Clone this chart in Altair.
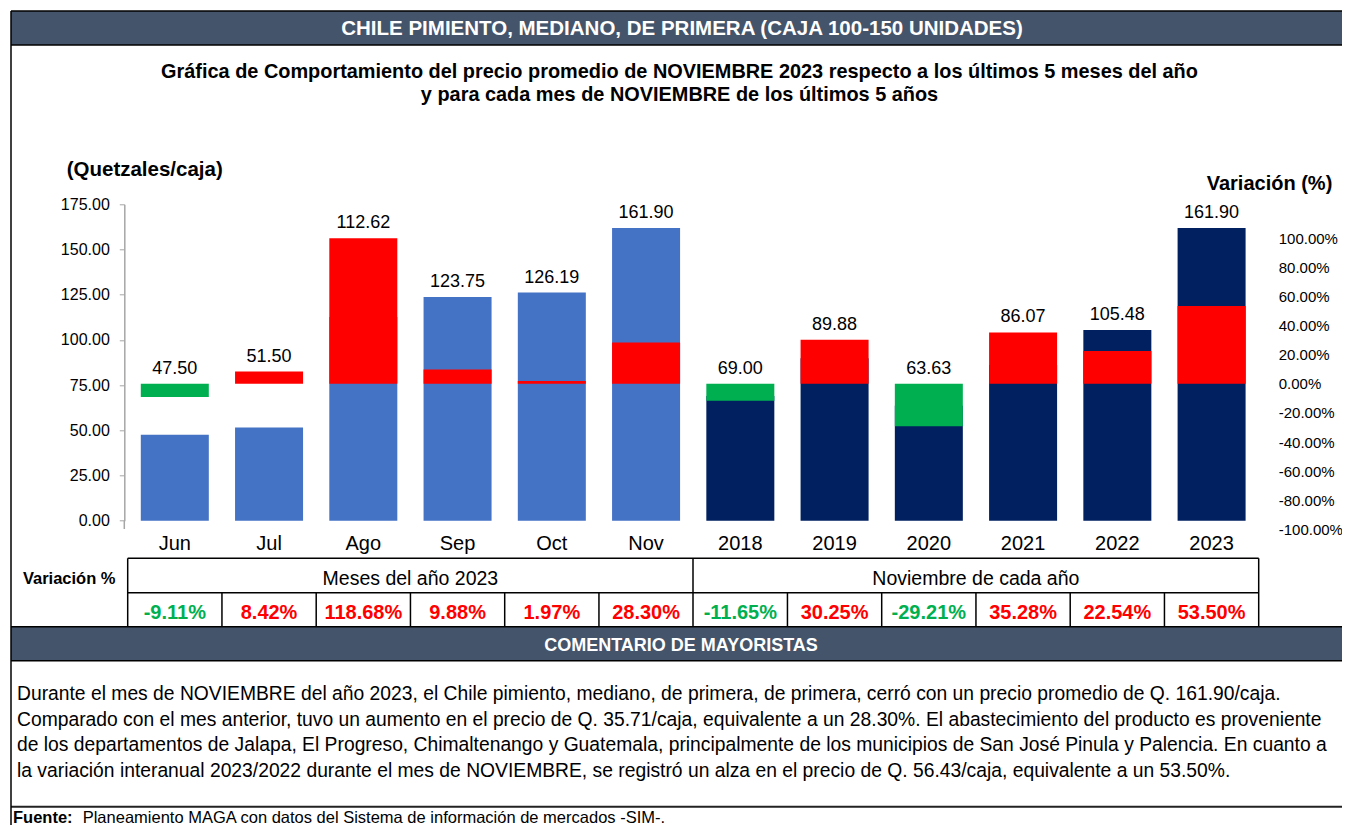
import altair as alt
import pandas as pd

# ---------------- datos ----------------
categorias = ["Jun", "Jul", "Ago", "Sep", "Oct", "Nov", "2018", "2019", "2020", "2021", "2022", "2023"]
grupos = ["mes"] * 6 + ["anio"] * 6
precios = [47.50, 51.50, 112.62, 123.75, 126.19, 161.90, 69.00, 89.88, 63.63, 86.07, 105.48, 161.90]
variaciones = [-9.11, 8.42, 118.68, 9.88, 1.97, 28.30, -11.65, 30.25, -29.21, 35.28, 22.54, 53.50]
ticks_izq = [0, 25, 50, 75, 100, 125, 150, 175]
ticks_der = [-100, -80, -60, -40, -20, 0, 20, 40, 60, 80, 100]

titulo = "CHILE PIMIENTO, MEDIANO, DE PRIMERA (CAJA 100-150 UNIDADES)"
subtitulo = [
    "Gráfica de Comportamiento del precio promedio de NOVIEMBRE 2023 respecto a los últimos 5 meses del año",
    "y para cada mes de NOVIEMBRE de los últimos 5 años",
]
eje_izq_titulo = "(Quetzales/caja)"
eje_der_titulo = "Variación (%)"
tabla_rotulo = "Variación %"
tabla_grupos = ["Meses del año 2023", "Noviembre de cada año"]
comentario_titulo = "COMENTARIO DE MAYORISTAS"
parrafo = [
    "Durante el mes de NOVIEMBRE del año 2023, el Chile pimiento, mediano, de primera, de primera, cerró con un precio promedio de Q. 161.90/caja.",
    "Comparado con el mes anterior, tuvo un aumento en el precio de Q. 35.71/caja, equivalente a un 28.30%. El abastecimiento del producto es proveniente",
    "de los departamentos de Jalapa, El Progreso, Chimaltenango y Guatemala, principalmente de los municipios de San José Pinula y Palencia. En cuanto a",
    "la variación interanual 2023/2022 durante el mes de NOVIEMBRE, se registró un alza en el precio de Q. 56.43/caja, equivalente a un 53.50%.",
]
fuente_bold = "Fuente:"
fuente_txt = "Planeamiento MAGA con datos del Sistema de información de mercados -SIM-."

# ---------------- layout ----------------
OX, OY = 127.7, 204.3          # plot origin on the page
W, H = 1131.0, 316.4
PAD_L, PAD_T = OX - 8, OY - 8
TOT_W, TOT_H = 1334, 817       # keeps the page inside the 1350x833 window
PAD_R = TOT_W - PAD_L - W
PAD_B = TOT_H - PAD_T - H
YMAX = 175
R_RANGE = [325.0, 34.0]        # pixel range of the right axis (-100% .. 100%)

FONT = "Liberation Sans"
SLATE = "#44546A"
BLUE = "#4472C4"
NAVY = "#002060"
RED = "#FF0000"
GREEN = "#00B050"
GRAY = "#A6A6A6"


def px(x):
    return x - OX


def py(y):
    return y - OY


uno = pd.DataFrame({"k": [0]})


def rect(x1, y1, x2, y2, fill):
    return alt.Chart(uno).mark_rect(fill=fill).encode(
        x=alt.value(px(x1)), x2=alt.value(px(x2)), y=alt.value(py(y1)), y2=alt.value(py(y2)))


def linea(x1, y1, x2, y2, color="#000000", w=1.5):
    return alt.Chart(uno).mark_rule(color=color, strokeWidth=w).encode(
        x=alt.value(px(x1)), x2=alt.value(px(x2)), y=alt.value(py(y1)), y2=alt.value(py(y2)))


def texto(t, x, y, size, bold=False, color="#000000", align="left"):
    return alt.Chart(uno).mark_text(
        text=t, font=FONT, fontSize=size, fontWeight="bold" if bold else "normal",
        color=color, align=align, baseline="alphabetic").encode(x=alt.value(px(x)), y=alt.value(py(y)))


# ---------------- data frame ----------------
df = pd.DataFrame({"cat": categorias, "grupo": grupos, "precio": precios, "var": variaciones})
df["var_txt"] = [f"{v:.2f}%" for v in variaciones]


# label anchor: top of whichever bar is higher (converted between the two scales)
def left_px(v):
    return H * (1 - v / YMAX)


def right_px(p):
    p = max(-100, min(100, p))
    return R_RANGE[0] + (p + 100) / 200 * (R_RANGE[1] - R_RANGE[0])


df["ancla"] = [YMAX * (1 - min(left_px(v), right_px(max(p, 0))) / H) for v, p in zip(precios, variaciones)]

# ---------------- encodings ----------------
x_axis = alt.Axis(title=None, labelFont=FONT, labelFontSize=20, labelColor="#000000", labelAngle=0,
                  ticks=False, tickSize=0, domain=False, labelPadding=13)
xenc = alt.X("cat:N", scale=alt.Scale(domain=categorias, paddingInner=0.2785, paddingOuter=0.139), axis=x_axis)

y_left_scale = alt.Scale(domain=[0, YMAX], nice=False, zero=True)
y_left_axis = alt.Axis(title=None, values=ticks_izq, format=".2f", offset=3.4, tickSize=5, tickColor=GRAY,
                       domainColor=GRAY, domainWidth=1.5, labelFont=FONT, labelFontSize=16, labelColor="#000000",
                       labelPadding=10, grid=False)

barras = alt.Chart(df).mark_bar().encode(
    x=xenc,
    y=alt.Y("precio:Q", scale=y_left_scale, axis=y_left_axis),
    color=alt.condition("datum.grupo == 'mes'", alt.value(BLUE), alt.value(NAVY)),
)
etiquetas = alt.Chart(df).mark_text(font=FONT, fontSize=18, baseline="alphabetic", dy=-10, color="#000000").encode(
    x=xenc,
    y=alt.Y("ancla:Q", scale=y_left_scale, axis=y_left_axis),
    text=alt.Text("precio:Q", format=".2f"),
)
izq = alt.layer(barras, etiquetas)

var_bars = alt.Chart(df).mark_bar().encode(
    x=xenc,
    y=alt.Y("var:Q", scale=alt.Scale(domain=[-100, 100], range=R_RANGE, clamp=True, nice=False, zero=False),
            axis=alt.Axis(title=None, orient="right", values=ticks_der,
                          labelExpr="(datum.value < 0 ? '-' : '') + format(abs(datum.value), '.2f') + '%'",
                          ticks=False, domain=False, grid=False,
                          labelFont=FONT, labelFontSize=15, labelColor="#000000", labelPadding=19.5,
                          labelAlign="left")),
    y2=alt.datum(0),
    color=alt.condition("datum.var < 0", alt.value(GREEN), alt.value(RED)),
)

tabla_vals = alt.Chart(df).mark_text(font=FONT, fontSize=20, fontWeight="bold", baseline="alphabetic").encode(
    x=xenc,
    y=alt.value(py(619)),
    text="var_txt:N",
    color=alt.condition("datum.var < 0", alt.value(GREEN), alt.value(RED)),
)

# ---------------- decoration ----------------
RIGHT = 1350
T_L, T_M, T_R = OX, 693.0, OX + W
T_Y0, T_Y1, T_Y2 = 558.3, 592.7, 626.7
step = W / len(categorias)

fondo = [
    rect(11, 11, RIGHT, 45, SLATE),
    linea(11, 11, RIGHT, 11),
    linea(11, 45, RIGHT, 45),
    rect(11, T_Y2, RIGHT, 660.7, SLATE),
    linea(11, T_Y2, RIGHT, T_Y2),
    linea(11, 660.7, RIGHT, 660.7),
    linea(11, 806.7, RIGHT, 806.7, color="#222222", w=2),
    linea(11, 11, 11, 833),
    linea(T_L, T_Y0, T_R, T_Y0),
    linea(T_L, T_Y1, T_R, T_Y1),
    linea(T_L, T_Y0, T_L, T_Y2),
    linea(T_M, T_Y0, T_M, T_Y2),
    linea(T_R, T_Y0, T_R, T_Y2),
    linea(124.3, OY + H, 124.3, 529, color=GRAY, w=1.5),
]
for k in range(1, len(categorias)):
    if k == 6:
        continue
    xk = OX + k * step
    fondo.append(linea(xk, T_Y1, xk, T_Y2))

textos = [
    texto(titulo, 682, 35.2, 20.5, bold=True, color="white", align="center"),
    texto(subtitulo[0], 679.5, 78, 19.9, bold=True, align="center"),
    texto(subtitulo[1], 679.5, 101, 19.9, bold=True, align="center"),
    texto(eje_izq_titulo, 66.7, 175.5, 20.5, bold=True),
    texto(eje_der_titulo, 1206.7, 190, 20, bold=True),
    texto(tabla_rotulo, 69.2, 584.2, 16.5, bold=True, align="center"),
    texto(tabla_grupos[0], (T_L + T_M) / 2, 585, 19.5, align="center"),
    texto(tabla_grupos[1], (T_M + T_R) / 2, 585, 19.5, align="center"),
    texto(comentario_titulo, 681, 650.6, 18, bold=True, color="white", align="center"),
    texto(fuente_bold, 13, 822.5, 16.5, bold=True),
    texto(fuente_txt, 82.7, 822.5, 16.5),
]
for i, linea_txt in enumerate(parrafo):
    textos.append(texto(linea_txt, 17, 700 + i * 25.7, 19.3))

chart = alt.layer(*fondo, izq, var_bars, tabla_vals, *textos).resolve_scale(y="independent").properties(
    width=W, height=H,
    padding={"left": PAD_L, "top": PAD_T, "right": PAD_R, "bottom": PAD_B},
    autosize=alt.AutoSizeParams(type="none"),
    background="white",
).configure_view(stroke=None)

chart.save("out.html", embed_options={"renderer": "svg", "actions": False})
